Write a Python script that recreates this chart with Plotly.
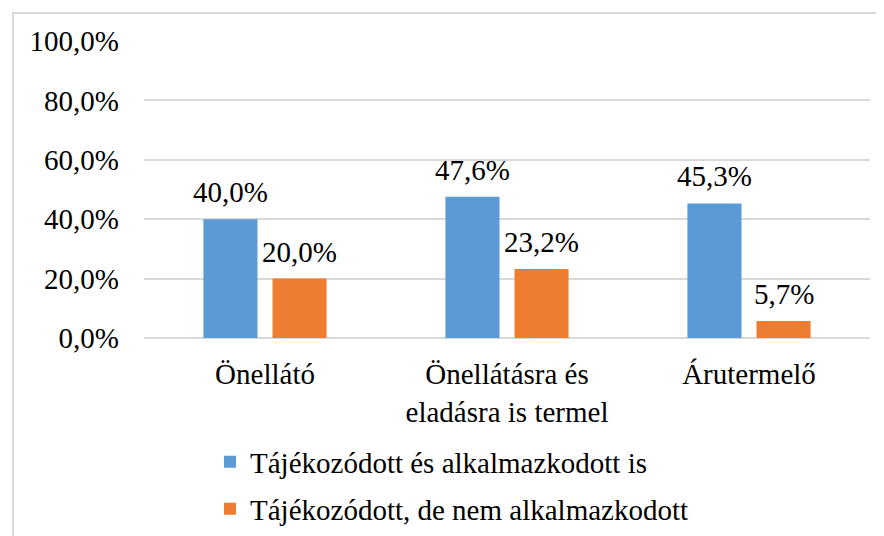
import plotly.graph_objects as go

categories = ["Önellátó", "Önellátásra és<br>eladásra is termel", "Árutermelő"]
series_names = ["Tájékozódott és alkalmazkodott is", "Tájékozódott, de nem alkalmazkodott"]
values_adapted = [40.0, 47.6, 45.3]
values_not_adapted = [20.0, 23.2, 5.7]
colors = ["#5B9BD5", "#ED7D31"]
y_ticks = [0, 20, 40, 60, 80, 100]
y_tick_labels = [f"{v:.1f}%".replace(".", ",") for v in y_ticks]

FONT = "Liberation Serif, Times New Roman, serif"
FS = 29

OFF = 8  # page body margin
W, H = 884, 536
L, T = 144 - OFF, 41 - OFF
R, B = W - (870 - OFF), H - (338 - OFF)
pw, ph = W - L - R, H - T - B

fig = go.Figure()
series = [(series_names[0], values_adapted, colors[0], "legend"),
          (series_names[1], values_not_adapted, colors[1], "legend2")]
for name, vals, col, lg in series:
    fig.add_trace(go.Bar(x=categories, y=vals, name=name, marker_color=col,
                         marker_line_width=0, legend=lg))

def px2paper_x(px):
    return (px - OFF - L) / pw

def px2paper_y(py):
    return 1 - (py - OFF - T) / ph

# data labels (values from the arrays, placed on the axes' scales)
anns = []
for si, (name, vals, col, lg) in enumerate(series):
    for c, v in zip(categories, vals):
        anns.append(dict(x=c, y=v, xref="x", yref="y", text=f"{v:.1f}%".replace(".", ","),
                         showarrow=False, yanchor="bottom", xshift=-34.5 if si == 0 else 34.5,
                         yshift=9, font=dict(family=FONT, size=FS, color="#000")))

fig.update_layout(
    width=W, height=H,
    margin=dict(l=L, r=R, t=T, b=B, autoexpand=False),
    paper_bgcolor="white", plot_bgcolor="white",
    barmode="group", bargap=0.429, bargroupgap=0.217,
    font=dict(family=FONT, size=FS, color="#000"),
    showlegend=True,
    annotations=anns,
    legend=dict(x=px2paper_x(210), y=px2paper_y(462), xanchor="left", yanchor="middle",
                font=dict(family=FONT, size=FS, color="#000"), bgcolor="rgba(0,0,0,0)"),
    legend2=dict(x=px2paper_x(210), y=px2paper_y(509), xanchor="left", yanchor="middle",
                 font=dict(family=FONT, size=FS, color="#000"), bgcolor="rgba(0,0,0,0)"),
    xaxis=dict(showline=False, ticks="", automargin=False,
               tickfont=dict(family=FONT, size=FS, color="#000"),
               ticklabelstandoff=16),
    yaxis=dict(range=[0, 100], tickvals=y_ticks, ticktext=y_tick_labels, automargin=False,
               showgrid=True, gridcolor="#d9d9d9", gridwidth=2, zeroline=True,
               zerolinecolor="#d9d9d9", zerolinewidth=2, showline=False, ticks="",
               ticklabelstandoff=24, tickfont=dict(family=FONT, size=FS, color="#000")),
    shapes=[dict(type="rect", xref="paper", yref="paper",
                 x0=px2paper_x(13), x1=px2paper_x(W + 20),
                 y0=px2paper_y(H + 20), y1=px2paper_y(13),
                 line=dict(color="#d9d9d9", width=2), fillcolor="rgba(0,0,0,0)", layer="below")],
)

fig.write_html("out.html")
